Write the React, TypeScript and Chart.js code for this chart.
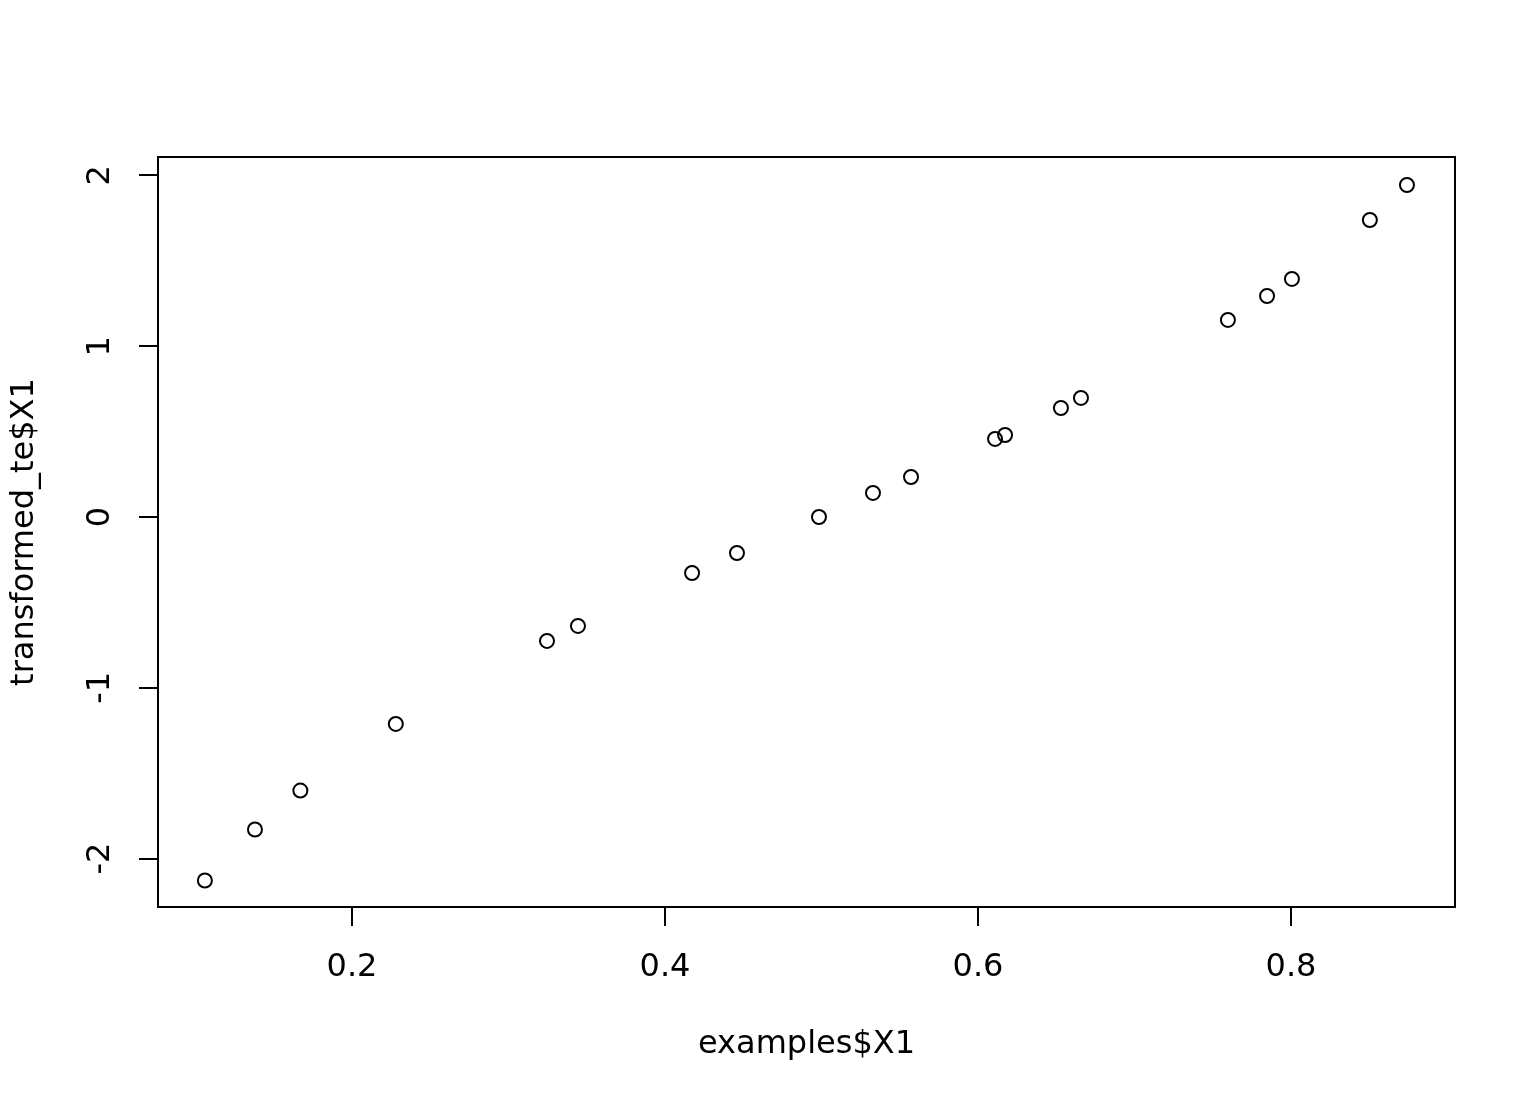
import React, { useEffect, useRef } from "react";
import { Chart, registerables } from "chart.js";

Chart.register(...registerables);

const xValues = [0.106, 0.138, 0.167, 0.228, 0.3246, 0.3444, 0.4173, 0.446, 0.4984, 0.5329, 0.5572, 0.6109, 0.6173, 0.653, 0.6658, 0.7597, 0.7847, 0.8006, 0.8504, 0.8741];
const yValues = [-2.129, -1.83, -1.602, -1.212, -0.726, -0.638, -0.328, -0.211, 0.0, 0.141, 0.234, 0.457, 0.48, 0.638, 0.697, 1.154, 1.294, 1.394, 1.739, 1.944];
const xTicks = [0.2, 0.4, 0.6, 0.8];
const yTicks = [-2, -1, 0, 1, 2];
const xTitle = "examples$X1";
const yTitle = "transformed_te$X1";

const FONT = "DejaVu Sans";

export default function App() {
  const ref = useRef<HTMLCanvasElement | null>(null);
  useEffect(() => {
    if (!ref.current) return;
    const boxPlugin = {
      id: "rbox",
      afterDraw(chart: any) {
        const { ctx, chartArea } = chart;
        ctx.save();
        ctx.strokeStyle = "#000";
        ctx.lineWidth = 2;
        ctx.strokeRect(chartArea.left, chartArea.top, chartArea.right - chartArea.left, chartArea.bottom - chartArea.top);
        const ys = chart.scales.y;
        ctx.fillStyle = "#000";
        ctx.font = `32px "${FONT}"`;
        ctx.textAlign = "center";
        ctx.textBaseline = "middle";
        for (const v of yTicks) {
          const py = ys.getPixelForValue(v);
          ctx.save();
          ctx.translate(101, py);
          ctx.rotate(-Math.PI / 2);
          ctx.fillText(String(v), 0, 0);
          ctx.restore();
        }
        ctx.restore();
      },
    };
    const chart = new Chart(ref.current, {
      type: "scatter",
      data: {
        datasets: [
          {
            data: xValues.map((x, i) => ({ x, y: yValues[i] })),
            pointStyle: "circle",
            pointRadius: 7,
            pointHoverRadius: 7,
            pointBorderWidth: 2,
            pointBackgroundColor: "rgba(0,0,0,0)",
            pointBorderColor: "#000",
          },
        ],
      },
      options: {
        animation: false,
        responsive: false,
        devicePixelRatio: 1,
        layout: { padding: { left: 0, right: 81, top: 157, bottom: 0 } },
        plugins: { legend: { display: false }, tooltip: { enabled: false } },
        scales: {
          x: {
            type: "linear",
            min: 0.07604,
            max: 0.9048,
            afterBuildTicks: (s: any) => {
              s.ticks = xTicks.map((v) => ({ value: v }));
            },
            afterFit: (s: any) => {
              s.height = 197;
            },
            grid: { drawOnChartArea: false, drawTicks: true, tickLength: 19, color: "#000", lineWidth: 2 },
            border: { display: false },
            ticks: {
              color: "#000",
              font: { family: FONT, size: 32 },
              padding: 22,
              maxRotation: 0,
              minRotation: 0,
              callback: (v: any) => String(v),
            },
            title: {
              display: true,
              text: xTitle,
              color: "#000",
              font: { family: FONT, size: 32 },
              padding: { top: 0, bottom: 40 },
            },
          },
          y: {
            type: "linear",
            min: -2.284,
            max: 2.108,
            afterBuildTicks: (s: any) => {
              s.ticks = yTicks.map((v) => ({ value: v }));
            },
            afterFit: (s: any) => {
              s.width = 158;
            },
            grid: { drawOnChartArea: false, drawTicks: true, tickLength: 19, color: "#000", lineWidth: 2 },
            border: { display: false },
            ticks: { display: false },
            title: {
              display: true,
              text: yTitle,
              color: "#000",
              font: { family: FONT, size: 32 },
              padding: { top: 5, bottom: 0 },
            },
          },
        },
      },
      plugins: [boxPlugin],
    });
    return () => chart.destroy();
  }, []);
  return (
    <div style={{ position: "absolute", left: 0, top: 0, width: 1536, height: 1104, background: "#fff" }}>
      <canvas ref={ref} width={1536} height={1104} style={{ display: "block" }} />
    </div>
  );
}
